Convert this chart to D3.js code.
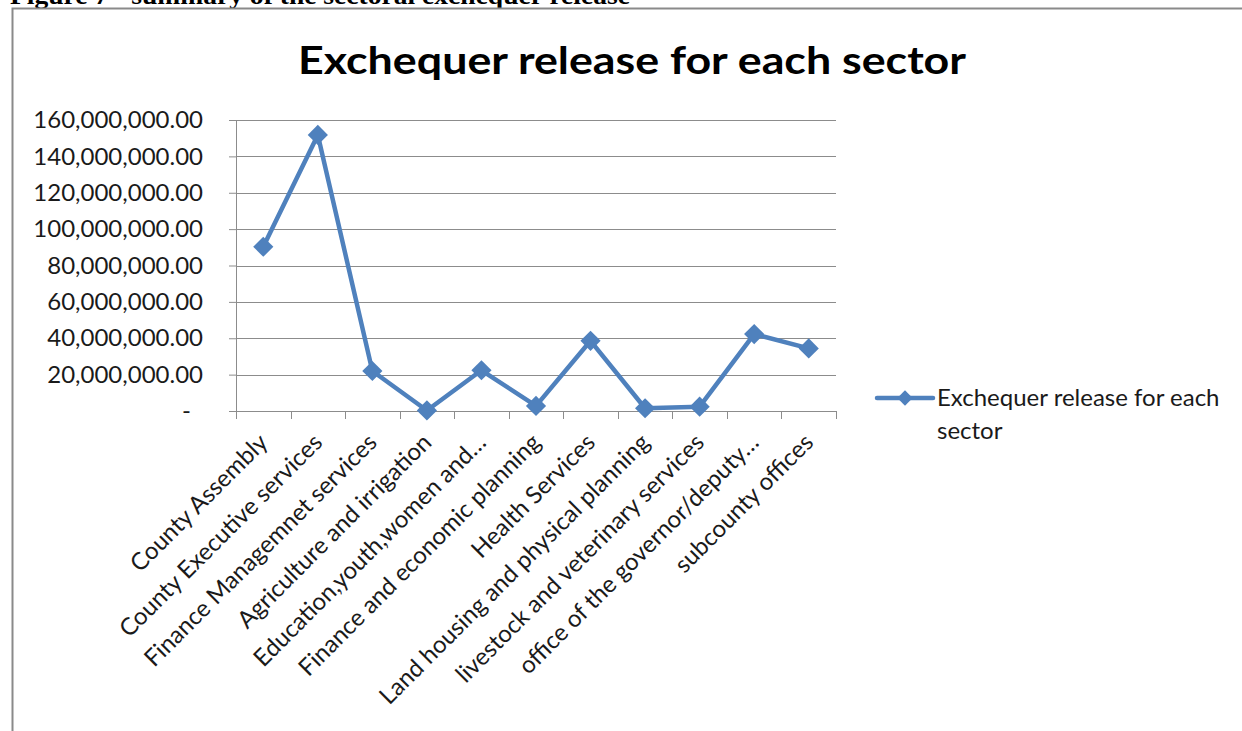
<!DOCTYPE html>
<html>
<head>
<meta charset="utf-8">
<script src="https://cdn.jsdelivr.net/npm/d3@7"></script>
<style>
  body { margin: 0; background: #fff; }
  svg { display: block; }
  text { font-family: Lato, "Open Sans", sans-serif; fill: #000; }
</style>
</head>
<body>
<div id="chart"></div>
<script>
// sectors and exchequer release values (KSh)
var sectors = [
  "County Assembly",
  "County Executive services",
  "Finance Managemnet services",
  "Agriculture and irrigation",
  "Education,youth,women and…",
  "Finance and economic planning",
  "Health Services",
  "Land housing and physical planning",
  "livestock and veterinary services",
  "office of the governor/deputy…",
  "subcounty offices"
];
var releases = [90300000, 151800000, 22000000, 300000, 22400000, 2800000, 38600000, 1500000, 2400000, 42300000, 34400000];
var yTicks = [0, 20000000, 40000000, 60000000, 80000000, 100000000, 120000000, 140000000, 160000000];

var W = 1242, H = 731;
var margin = {top: 120, right: 406, bottom: 320, left: 236},
    width = W - margin.left - margin.right,
    height = H - margin.top - margin.bottom;

var blue = "#4F81BD", grid = "#8c8c8c", ink = "#1a1a1a";

var svg = d3.select("#chart").append("svg")
    .attr("width", W)
    .attr("height", H);

// caption of the figure, cut off at the top like in the scan
svg.append("text")
    .attr("x", 10).attr("y", 4)
    .attr("textLength", 620)
    .attr("lengthAdjust", "spacingAndGlyphs")
    .style("font-family", "'Liberation Serif', serif")
    .style("font-weight", "bold")
    .style("font-size", "26px")
    .text("Figure 7 - summary of the sectoral exchequer release");

// chart frame
svg.append("path")
    .attr("d", "M12.5," + (H + 5) + "V8.5H" + (W + 5))
    .attr("fill", "none")
    .attr("stroke", "#8a8a8a")
    .attr("stroke-width", 2);

svg.append("text")
    .attr("x", 632).attr("y", 74)
    .attr("text-anchor", "middle")
    .attr("textLength", 668)
    .attr("lengthAdjust", "spacingAndGlyphs")
    .style("font-weight", "bold")
    .style("font-size", "38px")
    .text("Exchequer release for each sector");

var g = svg.append("g")
    .attr("transform", "translate(" + margin.left + "," + margin.top + ")");

var x = d3.scaleBand().domain(sectors).range([0, width]);
var y = d3.scaleLinear().domain([0, 160000000]).range([height, 0]);

var fmt = d3.format(",.2f");

// gridlines
g.append("g")
  .selectAll("line")
  .data(yTicks)
  .enter().append("line")
    .attr("x1", 0).attr("x2", width)
    .attr("y1", function(d) { return Math.round(y(d)) + 0.5; })
    .attr("y2", function(d) { return Math.round(y(d)) + 0.5; })
    .attr("stroke", grid);

// y axis
var yAxis = g.append("g")
    .call(d3.axisLeft(y).tickValues(yTicks).tickSize(7).tickPadding(26)
      .tickFormat(function(d) { return d === 0 ? "-" : fmt(d); }));
yAxis.selectAll("text").style("font-size", "24px").style("fill", ink);
yAxis.select(".domain").attr("stroke", grid);
yAxis.selectAll(".tick line").attr("stroke", grid);
yAxis.selectAll(".tick").filter(function(d) { return d === 0; })
    .select("text").attr("dx", -12);

// x axis with boundary ticks
var xg = g.append("g").attr("transform", "translate(0," + height + ")");
xg.append("line").attr("x1", 0).attr("x2", width).attr("y1", 0.5).attr("y2", 0.5).attr("stroke", grid);
xg.selectAll(".bt")
  .data(d3.range(sectors.length + 1))
  .enter().append("line")
    .attr("x1", function(i) { return Math.round(i * x.step()) + 0.5; })
    .attr("x2", function(i) { return Math.round(i * x.step()) + 0.5; })
    .attr("y1", 0).attr("y2", 8)
    .attr("stroke", grid);

xg.selectAll(".lbl")
  .data(sectors)
  .enter().append("text")
    .attr("transform", function(d) {
      return "translate(" + (x(d) + x.bandwidth() / 2 + 6) + ",33) rotate(-45)";
    })
    .attr("text-anchor", "end")
    .style("font-size", "24px")
    .style("fill", ink)
    .text(function(d) { return d; });

// series line
var line = d3.line()
    .x(function(d, i) { return x(sectors[i]) + x.bandwidth() / 2; })
    .y(function(d) { return y(d); });

g.append("path")
    .datum(releases)
    .attr("d", line)
    .attr("fill", "none")
    .attr("stroke", blue)
    .attr("stroke-width", 4.5)
    .attr("stroke-linejoin", "round");

var diamond = d3.symbol().type(d3.symbolDiamond2).size(260);

g.selectAll(".pt")
  .data(releases)
  .enter().append("path")
    .attr("transform", function(d, i) {
      return "translate(" + (x(sectors[i]) + x.bandwidth() / 2) + "," + y(d) + ")";
    })
    .attr("d", diamond)
    .attr("fill", blue);

// legend
var lg = svg.append("g").attr("transform", "translate(877,398)");
lg.append("line").attr("x1", 0).attr("x2", 56).attr("stroke", blue).attr("stroke-width", 4.5).attr("stroke-linecap", "round");
lg.append("path").attr("transform", "translate(28,0)").attr("d", d3.symbol().type(d3.symbolDiamond2).size(150)).attr("fill", blue);
lg.append("text").attr("x", 60).attr("y", 8).style("font-size", "24px").style("fill", ink).text("Exchequer release for each");
lg.append("text").attr("x", 60).attr("y", 41).style("font-size", "24px").style("fill", ink).text("sector");
</script>
</body>
</html>
